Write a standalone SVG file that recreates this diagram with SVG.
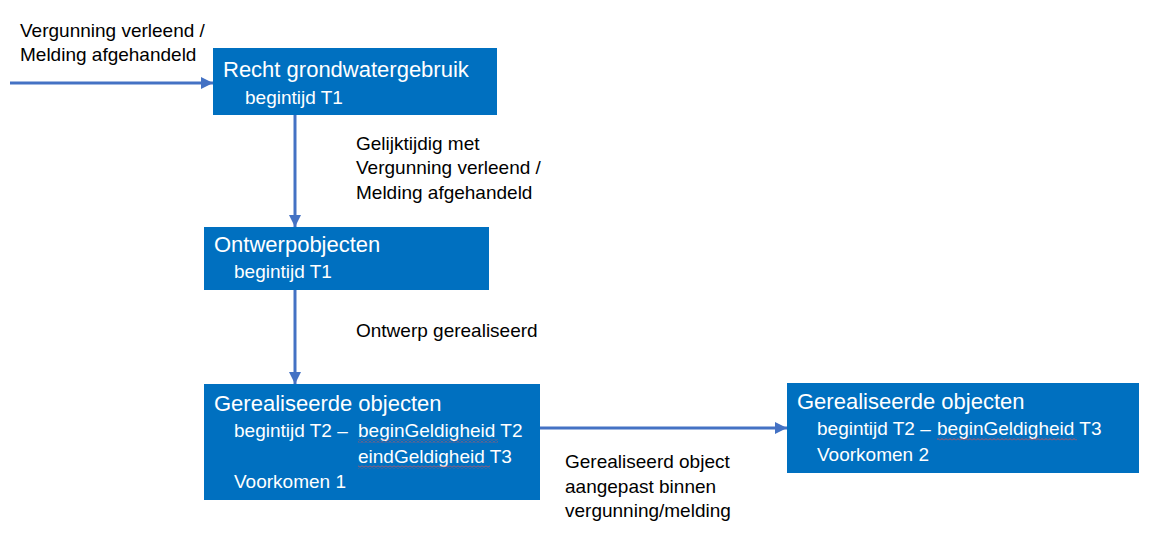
<svg xmlns="http://www.w3.org/2000/svg" width="1155" height="549" viewBox="0 0 1155 549">
<style>
.box{fill:#0070C0}
.t{font-family:"Liberation Sans",Arial,sans-serif;fill:#ffffff}
.h{font-size:22px}
.s{font-size:19px}
.lbl{font-family:"Liberation Sans",Arial,sans-serif;font-size:19px;fill:#000000}
.con{stroke:#4472C4;stroke-width:3;fill:none;marker-end:url(#ah)}
</style>
<defs>
<marker id="ah" markerWidth="4" markerHeight="4" refX="4" refY="2" orient="auto" markerUnits="strokeWidth" viewBox="0 0 4 4">
<path d="M0,0 L4,2 L0,4 Z" fill="#4472C4"/>
</marker>
<pattern id="sq" width="4" height="3" patternUnits="userSpaceOnUse">
<path d="M0,2.5 L2,0.5 L4,2.5" stroke="#E05050" stroke-width="0.9" fill="none"/>
</pattern>
</defs>
<rect width="1155" height="549" fill="#ffffff"/>
<g id="connectors">
<path class="con" d="M10,83 H213"/>
<path class="con" d="M295,115 V227"/>
<path class="con" d="M295,290 V384"/>
<path class="con" d="M532,428 H787"/>
</g>
<g id="labels">
<text class="lbl" x="20" y="37">Vergunning verleend /</text>
<text class="lbl" x="20" y="61">Melding afgehandeld</text>
<text class="lbl" x="356" y="150">Gelijktijdig met</text>
<text class="lbl" x="356" y="174">Vergunning verleend /</text>
<text class="lbl" x="356" y="199">Melding afgehandeld</text>
<text class="lbl" x="356" y="337">Ontwerp gerealiseerd</text>
<text class="lbl" x="565" y="468">Gerealiseerd object</text>
<text class="lbl" x="565" y="493">aangepast binnen</text>
<text class="lbl" x="565" y="517">vergunning/melding</text>
</g>
<g id="recht">
<rect class="box" x="213" y="48" width="284" height="67"/>
<text class="t h" x="223" y="77">Recht grondwatergebruik</text>
<text class="t s" x="245" y="104">begintijd T1</text>
</g>
<g id="ontwerp">
<rect class="box" x="204" y="227" width="285" height="63"/>
<text class="t h" x="214" y="252">Ontwerpobjecten</text>
<text class="t s" x="234" y="278">begintijd T1</text>
</g>
<g id="gerealiseerd1">
<rect class="box" x="204" y="384" width="336" height="116"/>
<text class="t h" x="214" y="411">Gerealiseerde objecten</text>
<text class="t s" x="234" y="437">begintijd T2 – <tspan x="358">beginGeldigheid</tspan> T2</text>
<text class="t s" x="358" y="463">eindGeldigheid T3</text>
<text class="t s" x="234" y="488">Voorkomen 1</text>
<rect x="358" y="439.5" width="140" height="3" fill="url(#sq)"/>
<rect x="358" y="465.5" width="132" height="3" fill="url(#sq)"/>
</g>
<g id="gerealiseerd2">
<rect class="box" x="787" y="383" width="352" height="90"/>
<text class="t h" x="797" y="409">Gerealiseerde objecten</text>
<text class="t s" x="817" y="435">begintijd T2 – <tspan x="937">beginGeldigheid</tspan> T3</text>
<text class="t s" x="817" y="461">Voorkomen 2</text>
<rect x="937" y="437.5" width="140" height="3" fill="url(#sq)"/>
</g>
</svg>
